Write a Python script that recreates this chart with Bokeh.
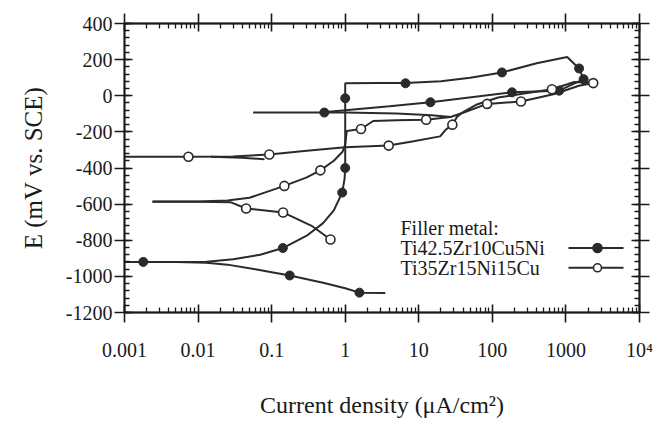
from bokeh.plotting import figure
from bokeh.models import FixedTicker, LogAxis, LinearAxis
from bokeh.embed import file_html
from bokeh.resources import INLINE
from bokeh.core.properties import value

# ---------------- data ----------------
x_tick_values = [0.001, 0.01, 0.1, 1, 10, 100, 1000, 10000]
x_tick_labels = ["0.001", "0.01", "0.1", "1", "10", "100", "1000", "10\u2074"]
y_tick_values = [-1200, -1000, -800, -600, -400, -200, 0, 200, 400]
y_tick_labels = ["-1200", "-1000", "-800", "-600", "-400", "-200", "0", "200", "400"]

series_names = ["Ti42.5Zr10Cu5Ni", "Ti35Zr15Ni15Cu"]
legend_title = "Filler metal:"

# Ti42.5Zr10Cu5Ni (filled circles)
s1_cath_x = [3.5, 1.56, 1.0, 0.5, 0.176, 0.06, 0.025, 0.013, 0.005, 0.001]
s1_cath_y = [-1092, -1090, -1066, -1035, -995, -960, -935, -925, -921, -920]
s1_main_x = [0.001, 0.005, 0.013, 0.03, 0.07, 0.142, 0.3, 0.5, 0.7, 0.91, 0.98, 1.0,
             1.0, 1.0, 3.0, 6.6, 20, 50, 135, 400, 1040, 1510, 1740, 810, 185, 14.4,
             4.0, 1.0, 0.6, 0.52, 0.056]
s1_main_y = [-920, -920, -919, -905, -880, -843, -775, -705, -635, -536, -460, -400,
             -14, 69, 70, 70, 80, 100, 129, 180, 215, 151, 92, 28, 19, -36,
             -58, -80, -88, -93, -93]
s1_mark_x = [0.0018, 0.142, 0.91, 1.0, 1.0, 6.6, 135, 1510, 1740, 810, 185, 14.4, 0.52, 0.176, 1.56]
s1_mark_y = [-920, -843, -536, -400, -14, 69, 129, 151, 92, 28, 19, -36, -93, -995, -1090]

# Ti35Zr15Ni15Cu (open circles)
s2_cath_x = [0.63, 0.35, 0.143, 0.045, 0.028, 0.01, 0.0024]
s2_cath_y = [-796, -720, -646, -624, -590, -587, -587]
s2_anod_x = [0.0024, 0.01, 0.025, 0.05, 0.149, 0.3, 0.46, 0.7, 0.92, 1.0, 1.05, 1.64,
             2.4, 5.0, 12.6, 27, 40, 85, 245, 700, 1500, 2350]
s2_anod_y = [-585, -585, -580, -565, -499, -452, -413, -360, -310, -270, -195, -184,
             -140, -136, -133, -118, -94, -45, -32, 10, 55, 70]
s2_rev_x = [2350, 1300, 645, 300, 120, 60, 40, 33, 28.6, 23, 19.5, 8.5, 3.9, 1.0,
            0.3, 0.093, 0.03, 0.0074, 0.001]
s2_rev_y = [70, 76, 36, 15, -10, -50, -90, -118, -160, -190, -225, -252, -276, -285,
            -305, -325, -337, -338, -338]
s2_hook_x = [0.015, 0.04, 0.08]
s2_hook_y = [-338, -343, -352]
s2_extra_x = [0.6, 1.0, 5, 15, 27]
s2_extra_y = [-93, -93, -98, -108, -118]
s2_mark_x = [0.0074, 0.093, 3.9, 28.6, 85, 245, 645, 2350, 1.64, 12.6, 0.149, 0.46, 0.045, 0.143, 0.63]
s2_mark_y = [-338, -325, -276, -160, -45, -32, 36, 70, -184, -133, -499, -413, -624, -646, -796]

# ---------------- figure ----------------
FONT = "Liberation Serif"
INK = "#1a1a1a"
LINE = "#2a2a2a"
W, H = 662, 420
BL, BR, BT, BB = 124, 23, 23, 106
FW, FH = W - BL - BR, H - BT - BB
XMIN, XMAX, YMIN, YMAX = 1e-3, 1e4, -1200, 400

p = figure(width=W, height=H, x_axis_type="log", x_range=(XMIN, XMAX), y_range=(YMIN, YMAX),
           output_backend="svg", toolbar_location=None,
           min_border_left=BL, min_border_right=BR, min_border_top=BT, min_border_bottom=BB)
p.xgrid.visible = False
p.ygrid.visible = False
p.outline_line_color = INK
p.outline_line_width = 1.6
p.background_fill_color = "white"
p.border_fill_color = "white"

x_minor = [m * d for d in x_tick_values[:-1] for m in range(2, 10)]
y_minor = list(range(YMIN, YMAX + 1, 40))


def style_axis(ax, show_labels):
    ax.axis_line_color = INK
    ax.axis_line_width = 1.8
    ax.major_tick_line_color = INK
    ax.major_tick_line_width = 1.6
    ax.minor_tick_line_color = INK
    ax.minor_tick_line_width = 1.3
    ax.major_tick_out = 10
    ax.major_tick_in = 8
    ax.minor_tick_out = 0
    ax.minor_tick_in = 5
    ax.major_label_text_font = FONT
    if show_labels:
        ax.major_label_text_font_size = "20px"
        ax.major_label_text_color = INK
    else:
        ax.major_label_text_font_size = "2px"
        ax.major_label_text_color = None
        ax.major_label_standoff = 0


xb = p.xaxis[0]
xb.ticker = FixedTicker(ticks=x_tick_values, minor_ticks=x_minor)
xb.major_label_overrides = {float(v): t for v, t in zip(x_tick_values, x_tick_labels)}
style_axis(xb, True)
xb.major_label_standoff = 16
xb.axis_label = "Current density (\u03bcA/cm\u00b2)"
xb.axis_label_text_font = FONT
xb.axis_label_text_font_size = "24px"
xb.axis_label_text_font_style = "normal"
xb.axis_label_text_color = INK
xb.axis_label_standoff = 28

yl = p.yaxis[0]
yl.ticker = FixedTicker(ticks=y_tick_values, minor_ticks=y_minor)
yl.major_label_overrides = {v: t for v, t in zip(y_tick_values, y_tick_labels)}
style_axis(yl, True)
yl.major_label_standoff = 2
yl.axis_label = "E (mV vs. SCE)"
yl.axis_label_text_font = FONT
yl.axis_label_text_font_size = "25px"
yl.axis_label_text_font_style = "normal"
yl.axis_label_text_color = INK
yl.axis_label_standoff = 16

xt = LogAxis(ticker=FixedTicker(ticks=x_tick_values, minor_ticks=x_minor))
style_axis(xt, False)
p.add_layout(xt, "above")
yr = LinearAxis(ticker=FixedTicker(ticks=y_tick_values, minor_ticks=y_minor))
style_axis(yr, False)
p.add_layout(yr, "right")

# ---------------- curves ----------------
p.multi_line(xs=[s1_cath_x, s1_main_x], ys=[s1_cath_y, s1_main_y],
             line_color=LINE, line_width=2)
p.multi_line(xs=[s2_cath_x, s2_anod_x, s2_rev_x, s2_hook_x, s2_extra_x],
             ys=[s2_cath_y, s2_anod_y, s2_rev_y, s2_hook_y, s2_extra_y],
             line_color=LINE, line_width=2)
p.scatter(s1_mark_x, s1_mark_y, marker="circle", size=9, fill_color=LINE, line_color=LINE)
p.scatter(s2_mark_x, s2_mark_y, marker="circle", size=9, fill_color="white",
          line_color=LINE, line_width=1.6)


# ---------------- legend (drawn by hand, symbol on the right) ----------------
def fx(px):  # frame pixel from the left -> data x
    return 10 ** (-3 + 7 * px / FW)


def fy(py):  # frame pixel from the top -> data y
    return YMAX - (YMAX - YMIN) * py / FH


leg_text_x = fx(276)
leg_rows = [206, 226, 246]
p.text(x=[leg_text_x] * 3, y=[fy(r) for r in leg_rows],
       text=[legend_title] + series_names,
       text_font=value(FONT), text_font_size="20px", text_color=INK,
       text_align="left", text_baseline="middle")
for r, fill in zip(leg_rows[1:], [LINE, "white"]):
    p.line([fx(444), fx(499)], [fy(r), fy(r)], line_color=LINE, line_width=2)
    p.scatter([fx(473)], [fy(r)], marker="circle", size=9 if fill == LINE else 8,
              fill_color=fill, line_color=LINE, line_width=1.6)

open("out.html", "w").write(file_html(p, INLINE))
